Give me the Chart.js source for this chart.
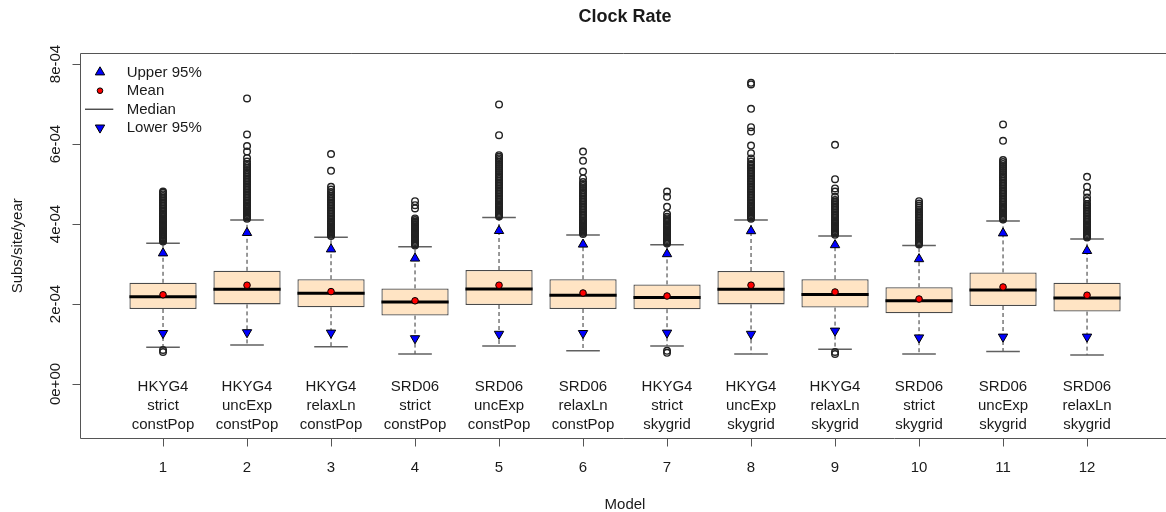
<!DOCTYPE html>
<html>
<head>
<meta charset="utf-8">
<script src="https://cdn.jsdelivr.net/npm/chart.js@4.4.1/dist/chart.umd.min.js"></script>
<style>
html, body { margin: 0; padding: 0; background: #fff; }
#wrap { width: 1166px; height: 512px; }
</style>
</head>
<body>
<div id="wrap"><canvas id="c" width="1166" height="512"></canvas></div>
<script>
// values are in units of 1e-4 subs/site/year
const models = [1, 2, 3, 4, 5, 6, 7, 8, 9, 10, 11, 12];
const labelLine1 = ["HKYG4", "HKYG4", "HKYG4", "SRD06", "SRD06", "SRD06", "HKYG4", "HKYG4", "HKYG4", "SRD06", "SRD06", "SRD06"];
const labelLine2 = ["strict", "uncExp", "relaxLn", "strict", "uncExp", "relaxLn", "strict", "uncExp", "relaxLn", "strict", "uncExp", "relaxLn"];
const labelLine3 = ["constPop", "constPop", "constPop", "constPop", "constPop", "constPop", "skygrid", "skygrid", "skygrid", "skygrid", "skygrid", "skygrid"];

const q1 =        [1.875, 1.99, 1.92, 1.71, 1.975, 1.875, 1.87, 1.99, 1.91, 1.77, 1.95, 1.81];
const q3 =        [2.53, 2.83, 2.62, 2.39, 2.85, 2.62, 2.49, 2.825, 2.62, 2.42, 2.79, 2.53];
const median =    [2.18, 2.37, 2.27, 2.05, 2.375, 2.22, 2.16, 2.37, 2.24, 2.08, 2.35, 2.15];
const mean =      [2.23, 2.47, 2.31, 2.08, 2.47, 2.275, 2.20, 2.47, 2.30, 2.125, 2.425, 2.22];
const whiskerHi = [3.52, 4.10, 3.67, 3.43, 4.16, 3.725, 3.48, 4.10, 3.70, 3.46, 4.075, 3.625];
const whiskerLo = [0.92, 0.975, 0.93, 0.75, 0.95, 0.83, 0.95, 0.75, 0.87, 0.75, 0.81, 0.725];
const upper95 =   [3.27, 3.78, 3.37, 3.14, 3.83, 3.49, 3.25, 3.825, 3.475, 3.125, 3.77, 3.33];
const lower95 =   [1.27, 1.29, 1.28, 1.14, 1.25, 1.27, 1.28, 1.25, 1.33, 1.16, 1.18, 1.18];

const out01 = [3.56,3.59,3.62,3.64,3.67,3.70,3.72,3.75,3.78,3.81,3.84,3.87,3.90,3.93,3.96,3.99,4.02,4.05,4.08,4.11,4.14,4.17,4.20,4.23,4.26,4.30,4.34,4.38,4.42,4.46,4.50,4.54,4.58,4.62,4.66,4.70,4.74,4.78,4.81,0.85,0.80];
const out02 = [4.13,4.16,4.19,4.22,4.25,4.28,4.31,4.34,4.37,4.40,4.43,4.46,4.50,4.54,4.58,4.62,4.66,4.70,4.74,4.78,4.82,4.86,4.90,4.94,4.98,5.02,5.06,5.10,5.14,5.18,5.22,5.26,5.30,5.35,5.40,5.45,5.50,5.56,5.65,5.81,5.95,6.24,7.14];
const out03 = [3.70,3.73,3.76,3.79,3.82,3.85,3.88,3.91,3.94,3.97,4.00,4.03,4.06,4.10,4.14,4.18,4.22,4.26,4.30,4.34,4.38,4.42,4.46,4.50,4.54,4.58,4.62,4.66,4.70,4.75,4.80,4.86,4.93,5.33,5.75];
const out04 = [3.46,3.49,3.52,3.55,3.58,3.61,3.64,3.67,3.70,3.73,3.76,3.79,3.82,3.85,3.88,3.91,3.94,3.97,4.00,4.03,4.06,4.10,4.14,4.39,4.47,4.57];
const out05 = [4.19,4.22,4.25,4.28,4.31,4.34,4.37,4.40,4.43,4.46,4.49,4.52,4.56,4.60,4.64,4.68,4.72,4.76,4.80,4.84,4.88,4.92,4.96,5.00,5.04,5.08,5.12,5.16,5.20,5.25,5.30,5.35,5.40,5.45,5.50,5.55,5.60,5.64,5.68,5.72,6.22,6.99];
const out06 = [3.75,3.78,3.81,3.84,3.87,3.90,3.93,3.96,3.99,4.02,4.05,4.08,4.12,4.16,4.20,4.24,4.28,4.32,4.36,4.40,4.44,4.48,4.52,4.56,4.60,4.64,4.68,4.72,4.76,4.80,4.85,4.90,4.95,5.00,5.05,5.14,5.31,5.58,5.81];
const out07 = [3.51,3.54,3.57,3.60,3.63,3.66,3.69,3.72,3.75,3.78,3.81,3.84,3.87,3.90,3.93,3.96,3.99,4.02,4.06,4.10,4.14,4.18,4.25,4.43,4.68,4.81,0.83,0.78];
const out08 = [4.13,4.16,4.19,4.22,4.25,4.28,4.31,4.34,4.37,4.40,4.43,4.46,4.50,4.54,4.58,4.62,4.66,4.70,4.74,4.78,4.82,4.86,4.90,4.94,4.98,5.02,5.06,5.10,5.14,5.18,5.22,5.26,5.30,5.34,5.38,5.42,5.46,5.50,5.56,5.64,5.77,5.96,6.31,6.42,6.88,7.49,7.53];
const out09 = [3.73,3.76,3.79,3.82,3.85,3.88,3.91,3.94,3.97,4.00,4.03,4.06,4.09,4.12,4.16,4.20,4.24,4.28,4.32,4.36,4.40,4.44,4.48,4.52,4.56,4.60,4.68,4.81,4.89,5.12,5.98,0.80,0.75];
const out10 = [3.49,3.52,3.55,3.58,3.61,3.64,3.67,3.70,3.73,3.76,3.79,3.82,3.85,3.88,3.91,3.94,3.97,4.00,4.04,4.08,4.12,4.16,4.20,4.24,4.28,4.32,4.36,4.41,4.46,4.51,4.57];
const out11 = [4.11,4.14,4.17,4.20,4.23,4.26,4.29,4.32,4.35,4.38,4.41,4.44,4.48,4.52,4.56,4.60,4.64,4.68,4.72,4.76,4.80,4.84,4.88,4.92,4.96,5.00,5.04,5.08,5.12,5.16,5.20,5.25,5.30,5.35,5.40,5.45,5.50,5.55,5.60,6.08,6.49];
const out12 = [3.66,3.69,3.72,3.75,3.78,3.81,3.84,3.87,3.90,3.93,3.96,3.99,4.02,4.06,4.10,4.14,4.18,4.22,4.26,4.30,4.34,4.38,4.42,4.46,4.50,4.58,4.66,4.78,4.93,5.18];
const outliers = [out01, out02, out03, out04, out05, out06, out07, out08, out09, out10, out11, out12];

const yTicks = [0, 2, 4, 6, 8];
const yTickLabels = ["0e+00", "2e-04", "4e-04", "6e-04", "8e-04"];
const yMin = -1.365, yMax = 8.275;
// R's plot region runs 0.02 .. 12.98; the right edge falls just off the picture
const xMin = 0.02, xMax = 12.94, xMid = 6.5;
const labelY = -0.5;

const chartTitle = "Clock Rate";
const xTitle = "Model";
const yTitle = "Subs/site/year";
const legendItems = ["Upper 95%", "Mean", "Median", "Lower 95%"];

const font = '"Liberation Sans", Arial, sans-serif';
const textColor = "#1a1a1a";
const frameColor = "#555";
const boxFill = "#FFE4C4";
const boxEdge = "#4a4a4a";
const boxWidth = 0.8;
const capWidth = 0.4;
const tickLen = 8;

Chart.defaults.font.family = font;
Chart.defaults.color = textColor;

function pts(arr) {
    return arr.map((v, i) => ({x: models[i], y: v}));
}

function halfPx(chart, w) {
    const s = chart.scales.x;
    return (s.getPixelForValue(1 + w / 2) - s.getPixelForValue(1));
}

function crisp(p) {
    return Math.round(p - 0.5) + 0.5;
}

const whiskerPts = [];
models.forEach((m, i) => {
    whiskerPts.push({x: m, y: q3[i]}, {x: m, y: whiskerHi[i]}, {x: m, y: null});
    whiskerPts.push({x: m, y: q1[i]}, {x: m, y: whiskerLo[i]}, {x: m, y: null});
});

const outlierPts = [];
outliers.forEach((list, i) => {
    list.forEach(v => outlierPts.push({x: models[i], y: v}));
});

function tri(ctx, x, y, r, down) {
    const s = down ? -1 : 1;
    ctx.beginPath();
    ctx.moveTo(x, y - s * r);
    ctx.lineTo(x + r * 0.866, y + s * r / 2);
    ctx.lineTo(x - r * 0.866, y + s * r / 2);
    ctx.closePath();
    ctx.fill();
    ctx.stroke();
}

const extras = {
    id: "extras",
    afterDraw(chart) {
        const ctx = chart.ctx;
        const a = chart.chartArea;
        const x = chart.scales.x;
        const y = chart.scales.y;
        ctx.save();
        ctx.setLineDash([]);

        // frame (left, top, bottom) drawn here so it runs the full width
        const top = crisp(a.top);
        const bottom = crisp(a.bottom);
        const left = crisp(a.left);
        ctx.strokeStyle = frameColor;
        ctx.lineWidth = 1;
        ctx.beginPath();
        ctx.moveTo(chart.width, top);
        ctx.lineTo(left, top);
        ctx.lineTo(left, bottom);
        ctx.lineTo(chart.width, bottom);
        // tick marks
        models.forEach(m => {
            const px = crisp(x.getPixelForValue(m));
            ctx.moveTo(px, bottom);
            ctx.lineTo(px, bottom + tickLen);
        });
        yTicks.forEach(v => {
            const py = crisp(y.getPixelForValue(v));
            ctx.moveTo(left, py);
            ctx.lineTo(left - tickLen, py);
        });
        ctx.stroke();

        ctx.fillStyle = textColor;
        ctx.textAlign = "center";
        ctx.textBaseline = "alphabetic";

        ctx.font = "bold 18px " + font;
        ctx.fillText(chartTitle, x.getPixelForValue(xMid), 22);

        // model names under the boxes
        ctx.font = "15px " + font;
        models.forEach((m, i) => {
            const px = x.getPixelForValue(m);
            const py = y.getPixelForValue(labelY);
            ctx.fillText(labelLine1[i], px, py - 13.3);
            ctx.fillText(labelLine2[i], px, py + 5.7);
            ctx.fillText(labelLine3[i], px, py + 24.7);
            ctx.fillText(String(m), px, 471.5);
        });

        // y tick labels, rotated like R
        yTicks.forEach((v, i) => {
            ctx.save();
            ctx.translate(a.left - 20.5, y.getPixelForValue(v));
            ctx.rotate(-Math.PI / 2);
            ctx.fillText(yTickLabels[i], 0, 0);
            ctx.restore();
        });

        ctx.save();
        ctx.translate(21.5, (a.top + a.bottom) / 2);
        ctx.rotate(-Math.PI / 2);
        ctx.fillText(yTitle, 0, 0);
        ctx.restore();

        ctx.fillText(xTitle, x.getPixelForValue(xMid), 508.5);

        // legend
        const lx = a.left + 19.3;
        const tx = a.left + 46;
        ctx.textAlign = "left";
        ctx.strokeStyle = "#000";
        ctx.lineWidth = 1;
        legendItems.forEach((t, i) => {
            const by = a.top + 23.7 + i * 18.5;
            const cy = by - 4.5;
            if (i === 0) {
                ctx.fillStyle = "#0000FF";
                tri(ctx, lx, cy, 5.4, false);
            } else if (i === 1) {
                ctx.fillStyle = "#FF0000";
                ctx.beginPath();
                ctx.arc(lx, cy, 2.8, 0, Math.PI * 2);
                ctx.fill();
                ctx.stroke();
            } else if (i === 2) {
                ctx.beginPath();
                ctx.moveTo(a.left + 4.3, cy);
                ctx.lineTo(a.left + 32.6, cy);
                ctx.stroke();
            } else {
                ctx.fillStyle = "#0000FF";
                tri(ctx, lx, cy, 5.4, true);
            }
            ctx.fillStyle = textColor;
            ctx.fillText(t, tx, by);
        });

        ctx.restore();
    }
};

new Chart(document.getElementById("c"), {
    type: "bar",
    data: {
        datasets: [
            {
                type: "bar",
                data: q1.map((v, i) => ({x: models[i], y: [v, q3[i]]})),
                backgroundColor: boxFill,
                borderColor: boxEdge,
                borderWidth: 1.3,
                borderSkipped: false,
                categoryPercentage: 1,
                barPercentage: boxWidth,
                order: 4
            },
            {
                type: "scatter",
                data: whiskerPts,
                showLine: true,
                spanGaps: false,
                borderColor: "#333",
                borderWidth: 1,
                borderDash: [4, 3],
                pointRadius: 0,
                order: 7
            },
            {
                type: "scatter",
                data: pts(whiskerHi).concat(pts(whiskerLo)),
                pointStyle: "line",
                pointRadius: ctx => halfPx(ctx.chart, capWidth),
                pointBorderColor: "#606060",
                pointBorderWidth: 1.5,
                order: 6
            },
            {
                type: "scatter",
                data: outlierPts,
                pointStyle: "circle",
                pointRadius: 3.3,
                pointBackgroundColor: "rgba(255,255,255,0)",
                pointBorderColor: "#222",
                pointBorderWidth: 1.4,
                order: 5
            },
            {
                type: "scatter",
                data: pts(median),
                pointStyle: "line",
                pointRadius: ctx => halfPx(ctx.chart, boxWidth),
                pointBorderColor: "#000",
                pointBorderWidth: 3,
                order: 3
            },
            {
                type: "scatter",
                data: pts(upper95),
                pointStyle: "triangle",
                pointRadius: 5.4,
                pointBackgroundColor: "#0000FF",
                pointBorderColor: "#000",
                pointBorderWidth: 1,
                order: 2
            },
            {
                type: "scatter",
                data: pts(lower95),
                pointStyle: "triangle",
                pointRotation: 180,
                pointRadius: 5.4,
                pointBackgroundColor: "#0000FF",
                pointBorderColor: "#000",
                pointBorderWidth: 1,
                order: 2
            },
            {
                type: "scatter",
                data: pts(mean),
                pointStyle: "circle",
                pointRadius: 3.3,
                pointBackgroundColor: "#FF0000",
                pointBorderColor: "#000",
                pointBorderWidth: 1,
                order: 1
            }
        ]
    },
    options: {
        responsive: false,
        animation: false,
        events: [],
        layout: {autoPadding: false, padding: {left: 72.7, top: 53, right: 0, bottom: 0}},
        plugins: {legend: {display: false}, tooltip: {enabled: false}, title: {display: false}},
        scales: {
            x: {
                type: "linear",
                offset: false,
                min: xMin,
                max: xMax,
                afterBuildTicks: s => { s.ticks = models.map(v => ({value: v})); },
                afterFit: s => { s.height = 73.4; s.paddingLeft = 0; s.paddingRight = 0; },
                grid: {display: false, drawTicks: false, tickLength: 0},
                border: {display: false},
                ticks: {display: false}
            },
            y: {
                type: "linear",
                min: yMin,
                max: yMax,
                afterBuildTicks: s => { s.ticks = yTicks.map(v => ({value: v})); },
                afterFit: s => { s.width = 8; s.paddingTop = 0; s.paddingBottom = 0; },
                grid: {display: false, drawTicks: false, tickLength: 0},
                border: {display: false},
                ticks: {display: false}
            }
        }
    },
    plugins: [extras]
});
</script>
</body>
</html>
